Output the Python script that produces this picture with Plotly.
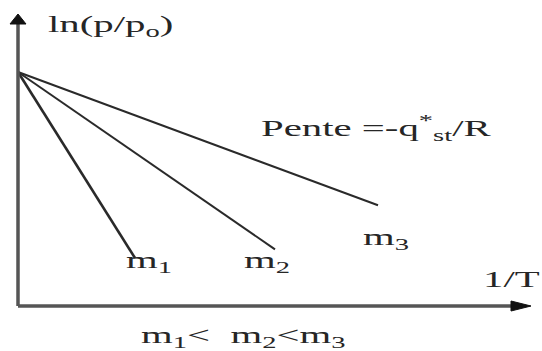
import plotly.graph_objects as go

# Isosteric lines: ln(p/p0) versus 1/T for three loadings m1 < m2 < m3
series_names = ["m1", "m2", "m3"]
intercept = 2.34
slopes = [-1.59, -0.69, -0.37]
x_end = [1.17, 2.57, 3.60]
line_widths = [2.6, 2.0, 2.0]

W, H = 542, 351
x_range = [-0.18, 5.24]
y_range = [-0.45, 3.06]
x_axis_end = 5.13
y_axis_end = 2.92

font_family = "Liberation Serif"
ink = "#262626"
axis_color = "#555555"
text_stretch = 1.7

fig = go.Figure()

for name, m, xe, lw in zip(series_names, slopes, x_end, line_widths):
    fig.add_trace(go.Scatter(
        x=[0, xe],
        y=[intercept, intercept + m * xe],
        mode="lines",
        line=dict(color="#2a2a2a", width=lw),
        name=name,
        showlegend=False,
        hoverinfo="skip",
    ))

# Axes: grey lines from the origin with filled arrowheads
fig.add_shape(type="line", x0=0, y0=0, x1=0, y1=y_axis_end - 0.06,
              line=dict(color=axis_color, width=3.5))
fig.add_shape(type="line", x0=0, y0=0, x1=x_axis_end - 0.12, y1=0,
              line=dict(color=axis_color, width=3.5))
fig.add_shape(type="path",
              path=f"M 0,{y_axis_end} L -0.08,{y_axis_end - 0.10} L 0.08,{y_axis_end - 0.10} Z",
              fillcolor="#111111", line=dict(color="#111111", width=1))
fig.add_shape(type="path",
              path=f"M {x_axis_end},0 L {x_axis_end - 0.20},0.05 L {x_axis_end - 0.20},-0.05 Z",
              fillcolor="#111111", line=dict(color="#111111", width=1))

def label(text, x, y, size=24):
    fig.add_annotation(x=x, y=y, xref="x", yref="y", text=text, showarrow=False,
                       xanchor="left", yanchor="middle",
                       font=dict(family=font_family, size=size, color=ink))

label("ln(p/p<sub>o</sub>)", 0.28, 2.80)
label("Pente =-q<sup>*</sup><sub>st</sub>/R", 2.41, 1.78)
label("m<sub>3</sub>", 3.43, 0.67)
label("m<sub>1</sub>", 1.06, 0.44)
label("m<sub>2</sub>", 2.24, 0.44)
label("1/T", 4.63, 0.27)
label("m<sub>1</sub>&lt;  m<sub>2</sub>&lt;m<sub>3</sub>", 1.21, -0.31)

fig.update_layout(
    width=W, height=H,
    autosize=False,
    margin=dict(l=0, r=0, t=0, b=0),
    font=dict(family=font_family, size=24, color=ink),
    paper_bgcolor="white",
    plot_bgcolor="white",
    xaxis=dict(range=x_range, visible=False, fixedrange=True),
    yaxis=dict(range=y_range, visible=False, fixedrange=True),
)

# Widen the serif lettering horizontally about its left edge
stretch_js = """
var gd = document.getElementById('{plot_id}');
gd.querySelectorAll('.annotation-text').forEach(function (t) {
  var bb = t.getBBox();
  var x0 = bb.x;
  var tr = t.getAttribute('transform') || '';
  t.setAttribute('transform', tr + ' translate(' + x0 + ',0) scale(%s,1) translate(' + (-x0) + ',0)');
});
""" % text_stretch

fig.write_html("out.html", post_script=stretch_js)
